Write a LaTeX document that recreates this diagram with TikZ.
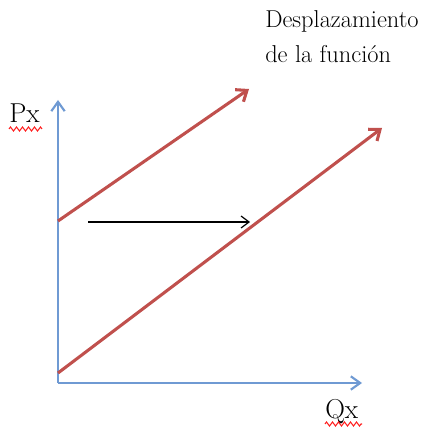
\documentclass[tikz,border=0pt]{standalone}
\usetikzlibrary{arrows.meta,decorations.pathmorphing}
\definecolor{axisblue}{HTML}{6F9AD3}
\definecolor{curvered}{HTML}{C0504D}
\definecolor{squig}{HTML}{FF2020}
\begin{document}
\begin{tikzpicture}[x=0.75pt,y=-0.75pt,
  axis/.style={draw=axisblue,line width=1.6pt,-{Straight Barb[length=7pt,width=10pt]}},
  curve/.style={draw=curvered,line width=2.3pt,-{Straight Barb[length=7pt,width=11pt]}},
  movearrow/.style={draw=black,line width=0.9pt,-{Straight Barb[length=6pt,width=9pt]}},
  lbl/.style={inner sep=0pt,anchor=base west,font=\fontsize{20.5pt}{24pt}\selectfont},
  note/.style={inner sep=0pt,anchor=base west,font=\fontsize{18.3pt}{22pt}\selectfont},
  squiggle/.style={draw=squig,line width=0.8pt,decorate,decoration={zigzag,segment length=4.5pt,amplitude=1.5pt}}]
\useasboundingbox (0,0) rectangle (441,427);
% coordinates
\coordinate (O) at (58,383);
\coordinate (ytop) at (58,100);
\coordinate (xend) at (362,383);
\coordinate (a1) at (58,221);
\coordinate (a2) at (249,89);
\coordinate (b1) at (58,373);
\coordinate (b2) at (382,128);
\coordinate (c1) at (88,222);
\coordinate (c2) at (250,222);
% axes
\draw[axis] (O) -- (ytop);
\draw[axis] (O) -- (xend);
% functions
\draw[curve] (a1) -- (a2);
\draw[curve] (b1) -- (b2);
% shift arrow
\draw[movearrow] (c1) -- (c2);
% labels
\node[lbl] (px) at (9,123) {Px};
\node[lbl] (qx) at (325,418) {Qx};
\draw[squiggle] (px.base west) ++(0,6) -- ++(33,0);
\draw[squiggle] (qx.base west) ++(0,6) -- ++(37,0);
\node[note] (t1) at (265,28) {Desplazamiento};
\node[note] (t2) at (265,63) {de la función};
\end{tikzpicture}
\end{document}
